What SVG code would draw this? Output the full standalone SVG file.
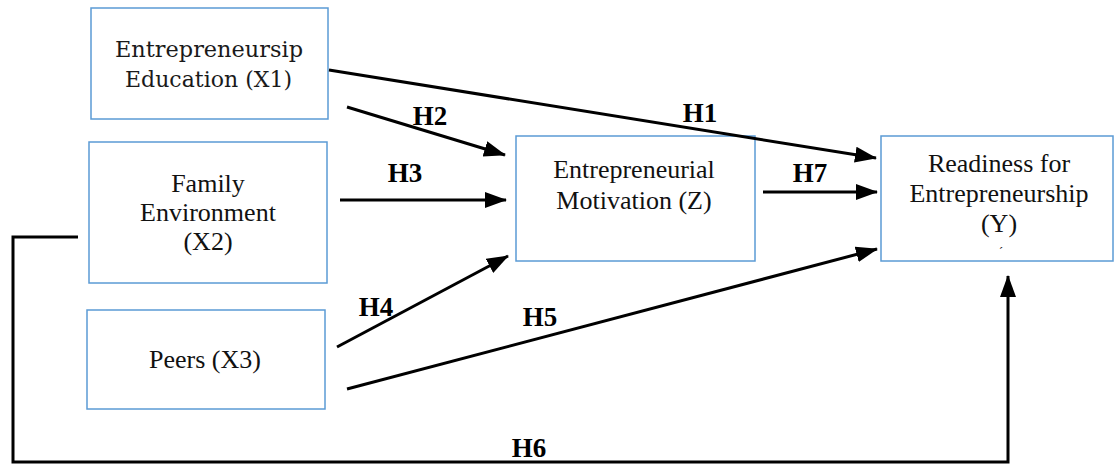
<svg xmlns="http://www.w3.org/2000/svg" width="1115" height="464" viewBox="0 0 1115 464">
<style>
.box{fill:#fff;stroke:#5b9bd5;stroke-width:1.5}
.t{font-family:"Liberation Serif","Times New Roman",serif;font-size:26px;fill:#111;text-anchor:middle}
.c{font-family:"DejaVu Serif",Cambria,serif;font-size:22px;fill:#1a1a1a}
.h{font-family:"Liberation Serif","Times New Roman",serif;font-size:27px;font-weight:bold;fill:#000;text-anchor:middle}
.ln{fill:none;stroke:#000;stroke-width:3}
</style>
<defs>
<marker id="ah" markerUnits="userSpaceOnUse" markerWidth="24" markerHeight="18" refX="21" refY="9" orient="auto">
<path d="M0,1 L22,9 L0,17 z" fill="#000"/>
</marker>
</defs>
<rect width="1115" height="464" fill="#fff"/>
<g id="x1">
<rect class="box" x="91" y="8" width="237" height="111"/>
<text class="c" x="115" y="57" textLength="188" lengthAdjust="spacingAndGlyphs">Entrepreneursip</text>
<text class="c" x="125" y="87" textLength="167" lengthAdjust="spacingAndGlyphs">Education (X1)</text>
</g>
<g id="x2">
<rect class="box" x="89" y="142" width="238" height="141"/>
<text class="t" x="208" y="192">Family</text>
<text class="t" x="208" y="221">Environment</text>
<text class="t" x="208" y="250">(X2)</text>
</g>
<g id="x3">
<rect class="box" x="87" y="310" width="238" height="99"/>
<text class="t" x="205" y="368">Peers (X3)</text>
</g>
<g id="z">
<rect class="box" x="516" y="136" width="239" height="125"/>
<text class="t" x="634" y="178">Entrepreneurial</text>
<text class="t" x="634" y="209">Motivation (Z)</text>
</g>
<g id="y">
<rect class="box" x="881" y="136" width="232" height="125"/>
<text class="t" x="999" y="172">Readiness for</text>
<text class="t" x="999" y="202">Entrepreneurship</text>
<text class="t" x="999" y="232">(Y)</text>
<text class="t" x="1001" y="256" style="font-size:12px">´</text>
</g>
<g id="connectors">
<line class="ln" x1="329" y1="70" x2="876" y2="158" marker-end="url(#ah)"/>
<line class="ln" x1="347" y1="107" x2="505" y2="155" marker-end="url(#ah)"/>
<line class="ln" x1="340" y1="200" x2="506" y2="200" marker-end="url(#ah)"/>
<line class="ln" x1="337" y1="347" x2="508" y2="256" marker-end="url(#ah)"/>
<line class="ln" x1="347" y1="389" x2="877" y2="249" marker-end="url(#ah)"/>
<line class="ln" x1="763" y1="192" x2="877" y2="192" marker-end="url(#ah)"/>
<path class="ln" d="M78,237 H13 V462 H1008 V276" marker-end="url(#ah)"/>
<text class="h" x="700" y="122">H1</text>
<text class="h" x="430" y="125">H2</text>
<text class="h" x="405" y="182">H3</text>
<text class="h" x="376" y="316">H4</text>
<text class="h" x="540" y="326">H5</text>
<text class="h" x="529" y="457">H6</text>
<text class="h" x="810" y="182">H7</text>
</g>
</svg>
